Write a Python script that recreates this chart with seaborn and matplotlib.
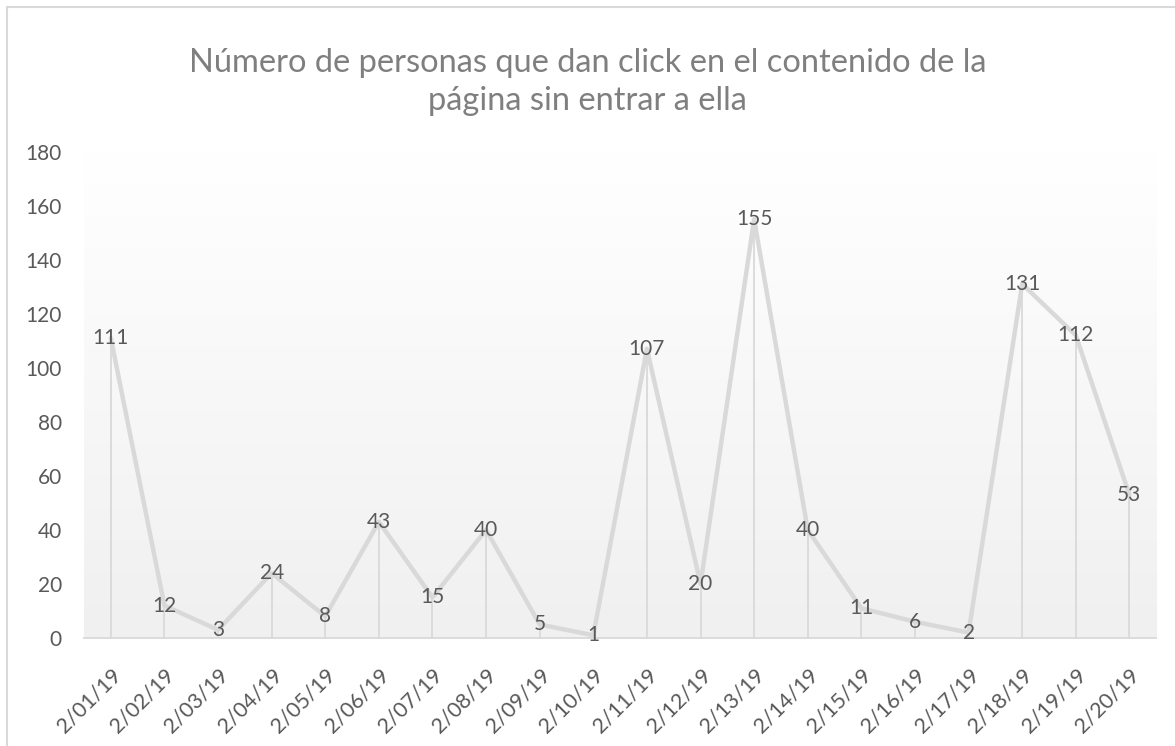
#-clicks on page content without entering the page, Feb 2019
import numpy as np
import pandas as pd
import matplotlib
matplotlib.use('Agg')
import matplotlib.pyplot as plt
from matplotlib.patches import Rectangle
import seaborn as sns

#---data
fechas = ['2/01/19', '2/02/19', '2/03/19', '2/04/19', '2/05/19', '2/06/19', '2/07/19',
          '2/08/19', '2/09/19', '2/10/19', '2/11/19', '2/12/19', '2/13/19', '2/14/19',
          '2/15/19', '2/16/19', '2/17/19', '2/18/19', '2/19/19', '2/20/19']
clicks = [111, 12, 3, 24, 8, 43, 15, 40, 5, 1, 107, 20, 155, 40, 11, 6, 2, 131, 112, 53]
titulo = 'Número de personas que dan click en el contenido de la\npágina sin entrar a ella'
y_ticks = [0, 20, 40, 60, 80, 100, 120, 140, 160, 180]

df = pd.DataFrame({'fecha': fechas, 'clicks': clicks})
df['pos'] = range(len(df))

sns.set_style('white')
plt.rcParams['font.family'] = ['Lato', 'DejaVu Sans']

fig = plt.figure(figsize=(11.75, 7.46), dpi=100)
ax = fig.add_axes([0.0715, 0.1448, 0.9125, 0.652])

#chart border (cropped on right/bottom like the original)
fig.patches.append(Rectangle((7 / 1175, -0.05), 1.2, 1 - 7 / 746 + 0.05, transform=fig.transFigure,
                             fill=False, edgecolor='#d9d9d9', linewidth=1.5))

#gradient fill of plot area
grad = np.linspace(0, 1, 256).reshape(-1, 1)
ax.imshow(grad, extent=[-0.5, len(df) - 0.5, 0, 180], origin='lower', aspect='auto',
          cmap=matplotlib.colors.LinearSegmentedColormap.from_list('g', ['#f0f0f0', '#ffffff']),
          zorder=0)

#drop lines
ax.vlines(df['pos'], 0, df['clicks'], color='#d9d9d9', linewidth=1.3, zorder=1)

sns.lineplot(x='pos', y='clicks', data=df, ax=ax, color='#d9d9d9', linewidth=3.2, zorder=2)

for p, v in zip(df['pos'], df['clicks']):
    ax.text(p, v, str(v), ha='center', va='center', fontsize=15, color='#595959', zorder=3)

ax.set_xlim(-0.5, len(df) - 0.5)
ax.set_ylim(0, 180)
ax.set_yticks(y_ticks)
ax.set_yticklabels([str(t) for t in y_ticks], fontsize=15, color='#595959')
ax.set_xticks(df['pos'])
ax.set_xticklabels(df['fecha'], rotation=45, ha='right', rotation_mode='anchor',
                   fontsize=15.5, color='#595959')
ax.tick_params(axis='both', length=0)
ax.tick_params(axis='x', pad=19)
ax.tick_params(axis='y', pad=16)
ax.set_xlabel('')
ax.set_ylabel('')

for s in ['top', 'right', 'left']:
    ax.spines[s].set_visible(False)
ax.spines['bottom'].set_color('#d9d9d9')
ax.spines['bottom'].set_linewidth(1.3)

fig.text(0.5, 1 - 82 / 746, titulo, ha='center', va='center', fontsize=23.5,
         color='#7f7f7f', linespacing=1.3)

fig.savefig('out.png', dpi=100)
